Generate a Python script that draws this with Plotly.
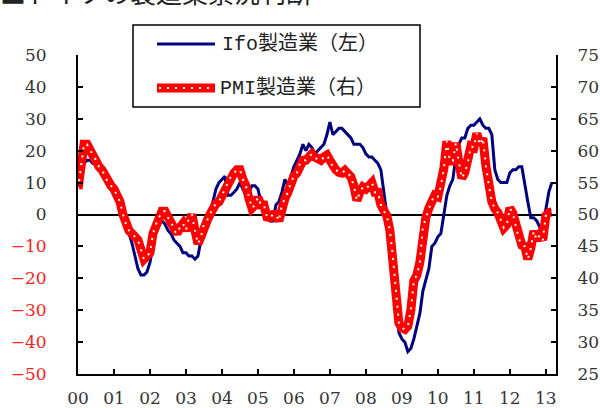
import plotly.graph_objects as go

# ---- data (monthly, Jan 2000 - Mar 2013) ----
months = [f"{y}-{m:02d}" for y in range(2000, 2014) for m in range(1, 13)][:159]

ifo = [
    12, 14, 16, 17, 17, 16, 16, 15, 15, 13, 11, 9,            # 2000
    8, 6, 3, -1, -4, -6, -9, -13, -17, -19, -19, -18,         # 2001
    -15, -10, -5, -3, -2, -3, -5, -6, -8, -9, -10, -12,       # 2002
    -12, -13, -13, -14, -13, -8, -4, -1, 1, 4, 8, 10,         # 2003
    11, 12, 6, 6, 7, 8, 10, 8, 6, 7, 9, 9,                    # 2004
    8, 4, 1, -1, -2, -2, 3, 4, 7, 11, 9, 12,                  # 2005
    15, 17, 19, 22, 20, 22, 21, 19, 20, 21, 22, 25,           # 2006
    29, 25, 26, 27, 27, 26, 25, 24, 22, 22, 22, 21,           # 2007
    19, 18, 18, 17, 16, 14, 7, 1, -6, -14, -24, -37,          # 2008
    -39, -40, -43, -42, -39, -35, -31, -24, -20, -17, -10, -9,  # 2009
    -7, -6, 0, 6, 9, 11, 18, 22, 24, 24, 27, 28,              # 2010
    28, 29, 30, 28, 27, 27, 25, 14, 11, 10, 10, 10,           # 2011
    13, 14, 14, 15, 15, 9, 4, -1, -1, -2, -4, -4,             # 2012
    2, 7, 10,                                                 # 2013
]

pmi = [
    54.0, 57.5, 61.0, 61.0, 60.0, 59.5, 58.5, 57.5, 57.0, 56.0, 55.0, 54.5,  # 2000
    54.0, 53.0, 52.0, 50.0, 48.5, 47.5, 47.0, 46.5, 46.0, 44.5, 43.0, 43.5,  # 2001
    44.0, 47.0, 48.5, 49.5, 50.5, 50.5, 49.5, 49.0, 47.5, 47.0, 48.0, 48.6,  # 2002
    47.5, 49.5, 50.0, 47.5, 45.4, 46.5, 48.5, 49.0, 50.0, 51.0, 51.7, 52.0,  # 2003
    53.0, 54.0, 55.0, 56.0, 56.5, 57.0, 57.0, 55.5, 54.5, 52.5, 51.0, 51.5,  # 2004
    52.7, 51.5, 51.5, 49.6, 49.5, 50.0, 50.0, 49.0, 51.5, 52.5, 53.5, 55.0,  # 2005
    56.0, 56.5, 58.0, 58.5, 58.5, 59.0, 59.5, 59.0, 58.5, 58.5, 59.0, 59.3,  # 2006
    58.5, 57.4, 57.0, 56.6, 56.5, 56.9, 56.5, 55.9, 54.5, 52.2, 53.5, 54.3,  # 2007
    54.0, 54.5, 55.0, 53.5, 53.5, 51.5, 50.5, 49.8, 47.5, 43.5, 37.5, 33.0,  # 2008
    32.2, 32.0, 32.5, 35.0, 39.6, 40.5, 42.5, 48.0, 49.5, 51.0, 52.2, 53.0,  # 2009
    52.8, 54.4, 57.2, 61.5, 58.4, 58.4, 61.2, 58.2, 55.7, 56.6, 58.1, 60.7,  # 2010
    60.5, 62.7, 60.9, 62.0, 57.7, 54.6, 52.0, 50.9, 50.3, 49.1, 47.9, 48.4,  # 2011
    51.0, 50.2, 48.4, 46.2, 45.2, 45.0, 43.0, 44.7, 47.4, 46.0, 46.8, 46.0,  # 2012
    49.8, 50.3, 50.4,                                                        # 2013
]

year_ticks = [f"{y}-01" for y in range(2000, 2014)]
year_labels = ["00", "01", "02", "03", "04", "05", "06", "07", "08", "09", "10", "11", "12", "13"]

left_vals = [50, 40, 30, 20, 10, 0, -10, -20, -30, -40, -50]
right_vals = [75, 70, 65, 60, 55, 50, 45, 40, 35, 30, 25]

series_names = ["Ifo製造業（左）", "PMI製造業（右）"]
title_text = "■ドイツの製造業景況判断"

# ---- styling ----
BLUE = "#000080"
RED = "#FF0000"
TXT = "#333333"
NUM_FONT = "DejaVu Serif"
LEG_FONT = "Liberation Mono, Noto Sans CJK JP"

L, R, T, B = 78, 44, 55, 34
W, H = 600, 408
PW, PH = W - L - R, H - T - B


def px(x):
    return (x - L) / PW


def py(y):
    return (H - B - y) / PH


def ylab(v):
    s = str(v).replace("-", "−")
    if v < 0:
        return f"<span style='color:#FF2020'>{s}</span>"
    return s


fig = go.Figure()
fig.add_trace(go.Scatter(x=months, y=ifo, mode="lines", name=series_names[0],
                         line=dict(color=BLUE, width=3), yaxis="y", showlegend=False))
fig.add_trace(go.Scatter(x=months, y=pmi, mode="lines", name=series_names[1],
                         line=dict(color=RED, width=9), yaxis="y2", showlegend=False))
fig.add_trace(go.Scatter(x=months, y=pmi, mode="lines", hoverinfo="skip",
                         line=dict(color="white", width=2, dash="2px,6px"),
                         yaxis="y2", showlegend=False))

axis_common = dict(showgrid=False, showline=True, linecolor="black", linewidth=2,
                   ticks="inside", ticklen=5, tickwidth=1.5, tickcolor="black",
                   automargin=False,
                   tickfont=dict(family=NUM_FONT, size=17, color=TXT))

fig.update_layout(
    width=W, height=H,
    margin=dict(l=L, r=R, t=T, b=B, autoexpand=False),
    paper_bgcolor="white", plot_bgcolor="white",
    showlegend=False,
    xaxis=dict(type="category", range=[0, 159.4], tickmode="array",
               tickvals=year_ticks, ticktext=year_labels, ticklabelstandoff=8,
               zeroline=False, **axis_common),
    yaxis=dict(range=[-50, 50], tickmode="array", tickvals=left_vals,
               ticktext=[ylab(v) for v in left_vals], ticklabelstandoff=26,
               zeroline=True, zerolinecolor="black", zerolinewidth=1.5,
               **axis_common),
    yaxis2=dict(range=[25, 75], tickmode="array", tickvals=right_vals,
                ticktext=[str(v) for v in right_vals], overlaying="y", side="right",
                ticklabelstandoff=16, zeroline=False, **axis_common),
)

# ---- legend drawn as box ----
shapes = [
    dict(type="rect", xref="paper", yref="paper", x0=px(133), x1=px(420), y0=py(107), y1=py(25),
         line=dict(color="black", width=1.5), fillcolor="white", layer="above"),
    dict(type="line", xref="paper", yref="paper", x0=px(157), x1=px(215), y0=py(44), y1=py(44),
         line=dict(color=BLUE, width=3), layer="above"),
    dict(type="line", xref="paper", yref="paper", x0=px(157), x1=px(215), y0=py(88), y1=py(88),
         line=dict(color=RED, width=9), layer="above"),
    dict(type="line", xref="paper", yref="paper", x0=px(159), x1=px(215), y0=py(88), y1=py(88),
         line=dict(color="white", width=2, dash="2px,6px"), layer="above"),
]
annotations = [
    dict(text=series_names[0], xref="paper", yref="paper", x=px(220), y=py(44),
         xanchor="left", yanchor="middle", showarrow=False,
         font=dict(family=LEG_FONT, size=20, color="#222222")),
    dict(text=series_names[1], xref="paper", yref="paper", x=px(218), y=py(88),
         xanchor="left", yanchor="middle", showarrow=False,
         font=dict(family=LEG_FONT, size=20, color="#222222")),
    dict(text=title_text, xref="paper", yref="paper", x=px(-2), y=py(-9),
         xanchor="left", yanchor="middle", showarrow=False,
         font=dict(family="Noto Sans CJK JP", size=26, color="#222222")),
]
fig.update_layout(shapes=shapes, annotations=annotations)

fig.write_html("out.html",
               config={"displayModeBar": False},
               post_script="document.body.style.margin='0';document.body.style.padding='0';"
                           "document.body.style.overflow='hidden';")
